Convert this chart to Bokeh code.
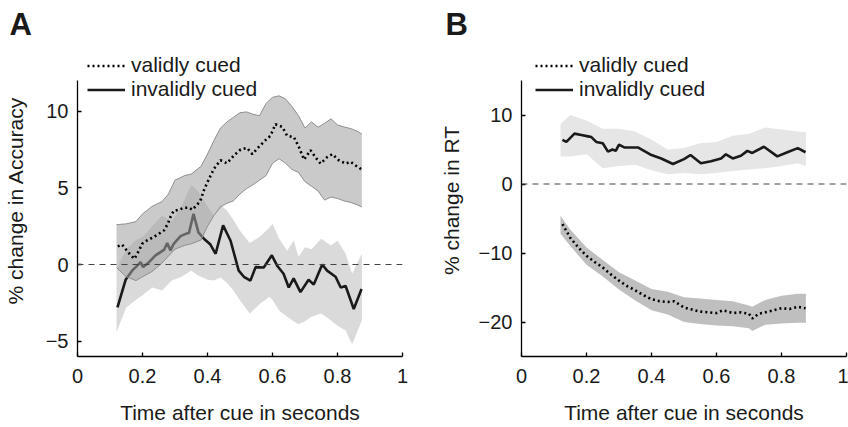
from bokeh.plotting import figure
from bokeh.models import Span, Legend, LegendItem, FixedTicker, Range1d, Title
from bokeh.layouts import row
from bokeh.embed import file_html
from bokeh.resources import INLINE

FONT = "Liberation Sans"

# ---------------- Panel A: % change in Accuracy ----------------
a_valid_t = [0.124, 0.137, 0.150, 0.162, 0.175, 0.189, 0.199, 0.214, 0.233, 0.250, 0.266, 0.278,
             0.286, 0.296, 0.312, 0.327, 0.343, 0.353, 0.366, 0.377, 0.390, 0.405, 0.420, 0.440,
             0.460, 0.481, 0.502, 0.522, 0.538, 0.558, 0.578, 0.594, 0.609, 0.630, 0.645, 0.666,
             0.681, 0.697, 0.717, 0.732, 0.748, 0.768, 0.784, 0.804, 0.825, 0.840, 0.855, 0.874]
a_valid_v = [1.18, 1.30, 0.96, 0.65, 0.37, 0.90, 1.35, 1.57, 1.78, 2.00, 2.22, 2.66,
             3.10, 3.50, 3.57, 3.70, 3.70, 3.57, 3.86, 4.10, 4.90, 5.60, 6.25, 6.80,
             6.60, 7.10, 7.50, 7.60, 7.20, 7.67, 8.10, 8.40, 9.15, 8.97, 8.40, 8.30,
             7.67, 6.84, 7.45, 7.00, 6.58, 7.00, 7.20, 6.80, 6.58, 6.70, 6.47, 6.20]

a_valid_band_t = [0.12, 0.15, 0.18, 0.20, 0.23, 0.26, 0.28, 0.30, 0.33, 0.35, 0.38, 0.40,
                  0.42, 0.44, 0.46, 0.48, 0.50, 0.52, 0.54, 0.56, 0.58, 0.60, 0.62, 0.64,
                  0.66, 0.68, 0.70, 0.72, 0.74, 0.76, 0.78, 0.80, 0.82, 0.84, 0.86, 0.875]
a_valid_upper = [2.6, 2.65, 2.8, 3.3, 3.8, 4.1, 4.6, 5.5, 5.8, 5.9, 6.4, 7.2,
                 8.1, 8.9, 9.3, 9.6, 9.9, 9.95, 9.8, 9.7, 10.5, 10.9, 11.0, 10.8,
                 10.3, 9.7, 8.9, 9.3, 8.95, 9.2, 9.5, 9.1, 8.97, 8.87, 8.7, 8.5]
a_valid_lower = [-0.2, -0.8, -1.05, -0.8, -0.45, 0.1, 0.55, 1.0, 1.25, 1.35, 1.6, 2.5,
                 3.2, 3.75, 4.0, 4.15, 4.6, 4.95, 5.2, 5.5, 5.8, 6.6, 6.9, 6.6,
                 6.2, 6.0, 5.4, 5.1, 4.8, 4.2, 4.4, 4.3, 4.15, 4.05, 3.9, 3.75]

a_inv_t = [0.123, 0.148, 0.168, 0.184, 0.194, 0.202, 0.220, 0.240, 0.266, 0.276, 0.286, 0.296,
           0.317, 0.333, 0.343, 0.357, 0.372, 0.389, 0.409, 0.425, 0.448, 0.471, 0.496, 0.512,
           0.532, 0.548, 0.573, 0.598, 0.615, 0.634, 0.650, 0.665, 0.686, 0.711, 0.727, 0.753,
           0.768, 0.794, 0.810, 0.825, 0.850, 0.874]
a_inv_v = [-2.8, -1.0, -0.4, -0.07, 0.15, -0.17, 0.15, 0.59, 0.95, 1.4, 0.92, 1.35,
           1.85, 2.0, 2.05, 3.3, 2.1, 1.68, 1.3, 0.7, 2.55, 1.55, -0.4, -0.8,
           -1.05, -0.17, -0.2, 0.6, -0.1, -0.6, -1.5, -0.9, -1.8, -1.0, -1.3, 0.0,
           -0.4, -0.8, -1.5, -1.4, -2.9, -1.6]

a_inv_band_t = [0.12, 0.15, 0.18, 0.20, 0.23, 0.26, 0.29, 0.32, 0.35, 0.37, 0.40, 0.42,
                0.44, 0.46, 0.48, 0.50, 0.53, 0.56, 0.59, 0.60, 0.62, 0.645, 0.665, 0.68,
                0.70, 0.72, 0.75, 0.78, 0.80, 0.825, 0.845, 0.875]
a_inv_upper = [-0.3, 1.0, 1.6, 1.8, 2.5, 3.2, 2.8, 3.8, 5.2, 4.8, 3.8, 3.2,
               3.9, 3.5, 2.9, 2.2, 1.4, 1.8, 2.4, 2.66, 1.7, 0.9, 1.57, 0.5,
               1.13, 1.0, 1.68, 1.24, 1.57, 0.7, -0.6, 0.7]
a_inv_lower = [-4.4, -2.8, -2.3, -2.0, -1.5, -1.7, -1.05, -0.8, -0.4, -0.7, -1.0, -1.05,
               -0.85, -1.2, -1.7, -2.35, -3.2, -2.6, -2.1, -2.3, -3.0, -3.4, -3.7, -3.9,
               -3.7, -3.4, -3.2, -3.66, -4.0, -4.3, -5.2, -3.66]

# ---------------- Panel B: % change in RT ----------------
b_inv_t = [0.126, 0.138, 0.163, 0.184, 0.205, 0.215, 0.230, 0.250, 0.266, 0.280, 0.290, 0.300,
           0.316, 0.358, 0.400, 0.430, 0.466, 0.500, 0.520, 0.552, 0.583, 0.614, 0.629, 0.650,
           0.675, 0.695, 0.710, 0.746, 0.787, 0.818, 0.850, 0.874]
b_inv_v = [6.4, 6.1, 7.3, 7.1, 6.9, 6.8, 6.1, 5.9, 4.7, 5.0, 4.8, 5.7,
           5.3, 5.3, 4.2, 3.7, 2.9, 3.6, 4.2, 3.0, 3.3, 3.7, 4.3, 3.7,
           4.1, 4.8, 4.5, 5.4, 4.0, 4.6, 5.2, 4.6]

b_inv_band_t = [0.12, 0.15, 0.20, 0.25, 0.30, 0.35, 0.40, 0.45, 0.50, 0.55, 0.60, 0.65,
                0.70, 0.75, 0.80, 0.85, 0.875]
b_inv_upper = [8.7, 10.0, 9.2, 8.0, 8.0, 7.6, 6.4, 5.0, 5.2, 5.9, 6.1, 7.0,
               7.3, 8.2, 7.9, 7.6, 7.5]
b_inv_lower = [4.0, 4.0, 4.3, 2.3, 2.6, 2.8, 2.0, 1.4, 1.6, 1.4, 1.6, 1.9,
               2.1, 2.3, 2.6, 3.0, 2.6]

b_valid_t = [0.126, 0.150, 0.175, 0.200, 0.225, 0.250, 0.275, 0.300, 0.325, 0.350, 0.375, 0.400,
             0.425, 0.450, 0.470, 0.500, 0.525, 0.550, 0.575, 0.600, 0.620, 0.650, 0.675, 0.700,
             0.710, 0.730, 0.750, 0.775, 0.800, 0.825, 0.850, 0.874]
b_valid_v = [-5.8, -7.8, -9.2, -10.4, -11.3, -12.1, -13.1, -14.0, -14.8, -15.4, -16.1, -16.7,
             -17.0, -17.1, -17.0, -17.9, -18.2, -18.5, -18.6, -18.7, -18.3, -18.7, -18.6, -18.8,
             -19.5, -18.8, -18.6, -18.3, -18.0, -18.1, -17.8, -18.0]

b_valid_band_t = [0.12, 0.15, 0.20, 0.25, 0.30, 0.35, 0.40, 0.45, 0.50, 0.55, 0.60, 0.65,
                  0.70, 0.71, 0.75, 0.80, 0.85, 0.875]
b_valid_upper = [-4.6, -6.6, -9.2, -11.0, -12.8, -14.0, -15.2, -15.6, -16.4, -16.6, -16.8, -17.0,
                 -17.6, -17.8, -16.8, -16.2, -15.9, -15.9]
b_valid_lower = [-7.2, -9.0, -11.7, -13.4, -15.3, -16.9, -18.3, -18.9, -20.0, -20.3, -20.5, -20.6,
                 -20.9, -21.3, -20.4, -20.2, -20.1, -20.1]

# ---------------- ticks and texts ----------------
x_ticks = [0, 0.2, 0.4, 0.6, 0.8, 1]
x_tick_labels = ["0", "0.2", "0.4", "0.6", "0.8", "1"]
a_y_limits = (-6, 12)
a_y_ticks = [-5, 0, 5, 10]
a_y_tick_labels = ["\u22125", "0", "5", "10"]
b_y_limits = (-25, 15)
b_y_ticks = [-20, -10, 0, 10]
b_y_tick_labels = ["\u221220", "\u221210", "0", "10"]
series_labels = ["validly cued", "invalidly cued"]
x_title = "Time after cue in seconds"

# ---------------- layout constants (pixels) ----------------
H = 427
FRAME_TOP = 44       # frame extends above the axis so the legend can sit there
AXIS_TOP = 80        # where the visible y axis ends
AXIS_BOTTOM = 356


def extended_range(lims):
    lo, hi = lims
    extra = (AXIS_TOP - FRAME_TOP) / (AXIS_BOTTOM - AXIS_TOP) * (hi - lo)
    return Range1d(lo, hi + extra)


def style_axes(p, ylims, yticks, ylabels, ylabel, ylab_standoff):
    p.xaxis.ticker = FixedTicker(ticks=x_ticks)
    p.xaxis.major_label_overrides = dict(zip(x_ticks, x_tick_labels))
    p.yaxis.ticker = FixedTicker(ticks=yticks)
    p.yaxis.major_label_overrides = dict(zip(yticks, ylabels))
    p.yaxis.bounds = ylims
    for ax in (p.xaxis[0], p.yaxis[0]):
        ax.axis_line_color = "black"
        ax.axis_line_width = 1.3
        ax.major_tick_in = 4
        ax.major_tick_out = 0
        ax.major_tick_line_color = "black"
        ax.major_tick_line_width = 1.3
        ax.minor_tick_line_color = None
        ax.major_label_text_font = FONT
        ax.major_label_text_font_size = "20px"
        ax.major_label_text_color = "#1a1a1a"
        ax.axis_label_text_font = FONT
        ax.axis_label_text_font_size = "21px"
        ax.axis_label_text_font_style = "normal"
        ax.axis_label_text_color = "#1a1a1a"
    p.xaxis.axis_label = x_title
    p.xaxis.major_label_standoff = 12
    p.xaxis.axis_label_standoff = 15
    p.yaxis.axis_label = ylabel
    p.yaxis.major_label_standoff = 9
    p.yaxis.axis_label_standoff = ylab_standoff
    p.xgrid.visible = False
    p.ygrid.visible = False
    p.outline_line_color = None
    p.background_fill_color = "white"
    p.border_fill_color = "white"


def add_legend(p, valid_r, inv_r, x_off):
    legend = Legend(items=[LegendItem(label=series_labels[0], renderers=[valid_r]),
                           LegendItem(label=series_labels[1], renderers=[inv_r])],
                    location=(x_off, AXIS_BOTTOM - 101), orientation="vertical",
                    glyph_width=38, glyph_height=23, label_height=23, label_standoff=6,
                    spacing=0, padding=0, margin=0,
                    label_text_font=FONT, label_text_font_size="21px",
                    label_text_color="#1a1a1a",
                    border_line_alpha=0, background_fill_alpha=0)
    p.add_layout(legend)


def make_title(letter, offset):
    return Title(text=letter, align="left", offset=offset, standoff=5,
                 text_font=FONT, text_font_size="31px", text_font_style="bold",
                 text_color="#1a1a1a")


# ---------------- Panel A ----------------
pa = figure(width=436, height=H, x_range=Range1d(0, 1), y_range=extended_range(a_y_limits),
            output_backend="svg", toolbar_location=None, title=make_title("A", -68),
            min_border_left=77, min_border_right=34, min_border_top=FRAME_TOP,
            min_border_bottom=H - AXIS_BOTTOM)
pa.varea(x=a_inv_band_t, y1=a_inv_lower, y2=a_inv_upper, fill_color="#dadada")
inv_a = pa.line(a_inv_t, a_inv_v, line_color="#1a1a1a", line_width=2.6)
pa.varea(x=a_valid_band_t, y1=a_valid_lower, y2=a_valid_upper, fill_color="#a0a0a0", fill_alpha=0.56)
pa.line(a_valid_band_t, a_valid_upper, line_color="#8f8f8f", line_width=1)
pa.line(a_valid_band_t, a_valid_lower, line_color="#8f8f8f", line_width=1)
val_a = pa.line(a_valid_t, a_valid_v, line_color="black", line_width=2.6, line_dash="2 3")
pa.add_layout(Span(location=0, dimension="width", line_color="#444444", line_width=1, line_dash="6 5"))
style_axes(pa, a_y_limits, a_y_ticks, a_y_tick_labels, "% change in Accuracy", 16)
add_legend(pa, val_a, inv_a, 10)

# ---------------- Panel B ----------------
pb = figure(width=412, height=H, x_range=Range1d(0, 1), y_range=extended_range(b_y_limits),
            output_backend="svg", toolbar_location=None, title=make_title("B", -76),
            min_border_left=84, min_border_right=2, min_border_top=FRAME_TOP,
            min_border_bottom=H - AXIS_BOTTOM)
pb.varea(x=b_inv_band_t, y1=b_inv_lower, y2=b_inv_upper, fill_color="#e6e6e6")
inv_b = pb.line(b_inv_t, b_inv_v, line_color="#1a1a1a", line_width=2.6)
pb.varea(x=b_valid_band_t, y1=b_valid_lower, y2=b_valid_upper, fill_color="#bfbfbf")
val_b = pb.line(b_valid_t, b_valid_v, line_color="black", line_width=2.6, line_dash="2 3")
pb.add_layout(Span(location=0, dimension="width", line_color="#444444", line_width=1, line_dash="6 5"))
style_axes(pb, b_y_limits, b_y_ticks, b_y_tick_labels, "% change in RT", 13)
add_legend(pb, val_b, inv_b, 14)

layout = row(pa, pb)
open("out.html", "w").write(file_html(layout, INLINE))
